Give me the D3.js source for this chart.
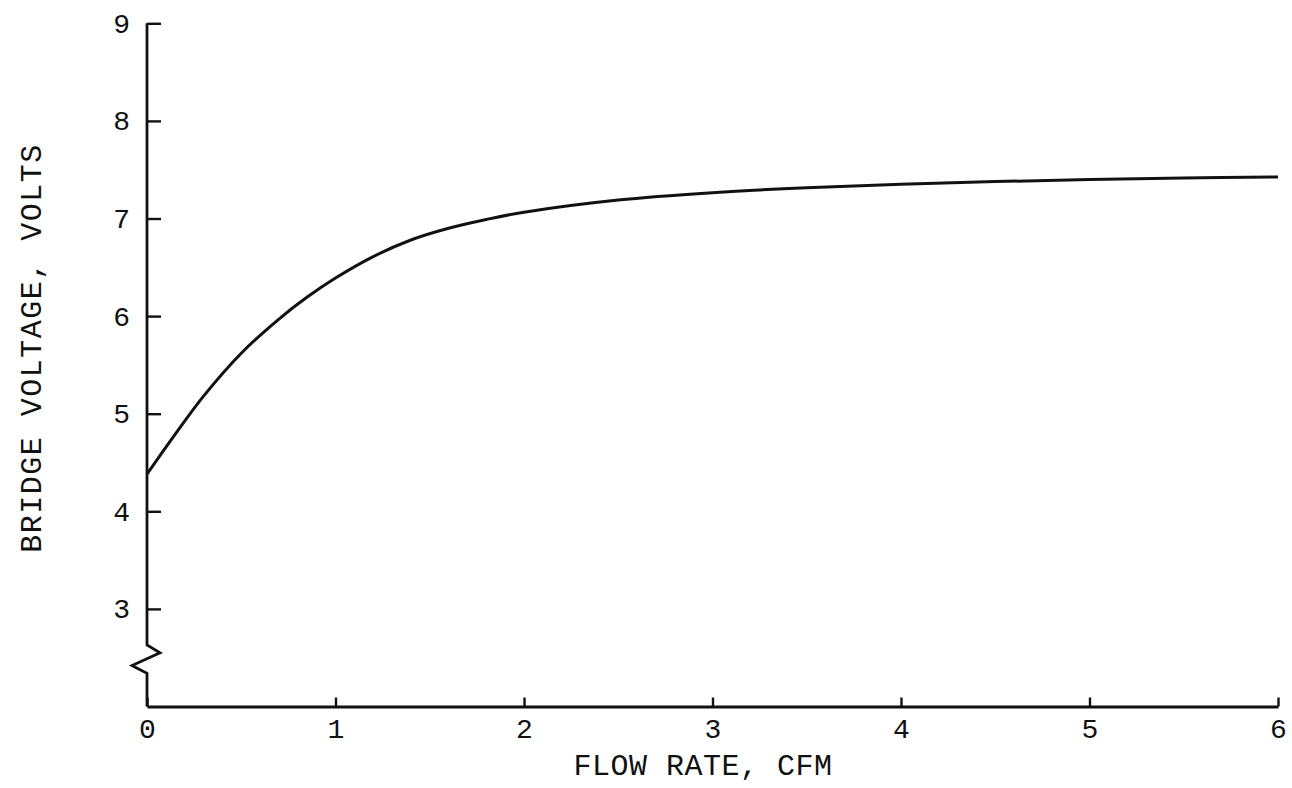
<!DOCTYPE html>
<html>
<head>
<meta charset="utf-8">
<script src="https://cdn.jsdelivr.net/npm/d3@7"></script>
<style>
  html, body { margin: 0; padding: 0; background: #ffffff; }
  svg { display: block; }
  text { font-family: "Liberation Mono", "DejaVu Sans Mono", monospace; fill: #111; }
</style>
</head>
<body>
<svg id="chart" width="1292" height="788"></svg>
<script>
// ---- data ----
const flowRate = [0, 0.15, 0.3, 0.5, 0.7, 0.85, 1.0, 1.2, 1.4, 1.6, 1.8, 2.0, 2.5, 3.0, 3.5, 4.0, 4.5, 5.0, 5.5, 6.0];
const bridgeVoltage = [4.38, 4.79, 5.18, 5.62, 5.97, 6.195, 6.39, 6.61, 6.78, 6.90, 6.99, 7.065, 7.19, 7.265, 7.315, 7.35, 7.378, 7.40, 7.415, 7.425];
const xTicks = [0, 1, 2, 3, 4, 5, 6];
const yTicks = [3, 4, 5, 6, 7, 8, 9];
const xTitle = "FLOW RATE, CFM";
const yTitle = "BRIDGE VOLTAGE, VOLTS";

// ---- layout ----
const svg = d3.select("#chart");
const x = d3.scaleLinear().domain([0, 6]).range([147, 1278]);
const y = d3.scaleLinear().domain([2, 9]).range([706.5, 23.3]);
const ink = "#111";

// x axis
const xAxis = d3.axisBottom(x).tickValues(xTicks).tickFormat(d3.format("d"))
  .tickSize(-9).tickSizeOuter(0).tickPadding(12);
const gx = svg.append("g").attr("transform", `translate(0,${y(2)})`).call(xAxis);
gx.select(".domain").attr("stroke", ink).attr("stroke-width", 2.8);
gx.selectAll(".tick line").attr("stroke", ink).attr("stroke-width", 2.4);
gx.selectAll(".tick text").attr("font-size", 28).attr("font-family", "Liberation Mono").attr("fill", ink);

// y axis (ticks & labels; domain drawn with break)
const yAxis = d3.axisLeft(y).tickValues(yTicks).tickFormat(d3.format("d"))
  .tickSize(-14).tickSizeOuter(0).tickPadding(17);
const gy = svg.append("g").attr("transform", `translate(${x(0)},0)`).call(yAxis);
gy.select(".domain").remove();
gy.selectAll(".tick line").attr("stroke", ink).attr("stroke-width", 2.4);
gy.selectAll(".tick text").attr("font-size", 28).attr("font-family", "Liberation Mono").attr("fill", ink);

// y axis line with break symbol
const x0 = x(0);
const yBreak = [
  [x0, y(9)],
  [x0, y(2.63)],
  [x0 + 13, y(2.55)],
  [x0 - 15, y(2.42)],
  [x0, y(2.34)],
  [x0, y(2)]
];
svg.append("path")
  .attr("d", d3.line()(yBreak))
  .attr("fill", "none").attr("stroke", ink).attr("stroke-width", 2.8)
  .attr("stroke-linejoin", "miter");

// curve
const pts = flowRate.map((f, i) => [f, bridgeVoltage[i]]);
svg.append("path")
  .datum(pts)
  .attr("d", d3.line().x(d => x(d[0])).y(d => y(d[1])).curve(d3.curveCatmullRom.alpha(0.5)))
  .attr("fill", "none").attr("stroke", ink).attr("stroke-width", 3);

// titles
svg.append("text")
  .attr("x", 703).attr("y", 775)
  .attr("text-anchor", "middle")
  .attr("font-size", 30)
  .attr("letter-spacing", 0.5)
  .text(xTitle);

svg.append("text")
  .attr("transform", "translate(41,348) rotate(-90)")
  .attr("text-anchor", "middle")
  .attr("font-size", 30)
  .attr("letter-spacing", 1.5)
  .text(yTitle);
</script>
</body>
</html>
